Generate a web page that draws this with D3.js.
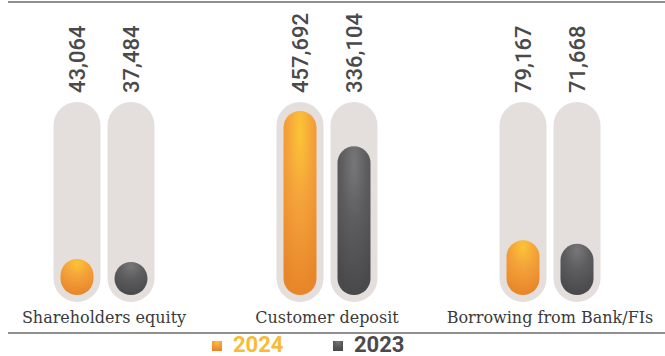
<!DOCTYPE html>
<html><head><meta charset="utf-8">
<script src="https://cdn.jsdelivr.net/npm/d3@7"></script>
<style>html,body{margin:0;padding:0;background:#fff;}svg{display:block;}</style>
</head><body>
<script>
const categories = ["Shareholders equity", "Customer deposit", "Borrowing from Bank/FIs"];
const seriesNames = ["2024", "2023"];
const values2024 = [43064, 457692, 79167];
const values2023 = [37484, 336104, 71668];

const W = 665, H = 356;
const svg = d3.select("body").append("svg").attr("width", W).attr("height", H);
const defs = svg.append("defs");

function radial(id, c0, c1, c2) {
  const g = defs.append("radialGradient").attr("id", id)
    .attr("cx", 0.5).attr("cy", 0.12).attr("r", 0.85).attr("fx", 0.5).attr("fy", 0.12);
  g.append("stop").attr("offset", "0%").attr("stop-color", c0);
  g.append("stop").attr("offset", "45%").attr("stop-color", c1);
  g.append("stop").attr("offset", "100%").attr("stop-color", c2);
}
radial("g2024", "#fcc437", "#f4a23a", "#e8872a");
radial("g2023", "#77777a", "#5d5d60", "#4a4a4c");

const colors = {"2024": "url(#g2024)", "2023": "url(#g2023)"};
const legendColors = {"2024": "#f9bb37", "2023": "#4a4a4c"};

const x = d3.scalePoint().domain(categories).range([104, 550]);
const xs = d3.scaleBand().domain(seriesNames).range([-50.5, 50.5]).paddingInner(7 / 54);
const trackW = xs.bandwidth();
const inset = 7;
const barW = trackW - 2 * inset;
const trackTop = 102, trackBottom = 302;
const base = trackBottom - inset;
const h = d3.scalePow().exponent(0.69).domain([0, d3.max(values2024.concat(values2023))]).range([0, 184]);
const fmt = d3.format(",");

// lines
svg.append("line").attr("x1", 8).attr("x2", W).attr("y1", 2).attr("y2", 2)
  .attr("stroke", "#6b6b6b").attr("stroke-width", 1.5);
svg.append("line").attr("x1", 8).attr("x2", W).attr("y1", 333).attr("y2", 333)
  .attr("stroke", "#6b6b6b").attr("stroke-width", 1.5);

const rows = [];
categories.forEach((c, i) => {
  rows.push({cat: c, s: "2024", v: values2024[i]});
  rows.push({cat: c, s: "2023", v: values2023[i]});
});

const g = svg.append("g");
rows.forEach(d => {
  const x0 = x(d.cat) + xs(d.s);
  g.append("rect").attr("x", x0).attr("y", trackTop).attr("width", trackW)
    .attr("height", trackBottom - trackTop).attr("rx", trackW / 2).attr("ry", trackW / 2)
    .attr("fill", "#e4dfdc");
  const bh = Math.max(barW, h(d.v));
  g.append("rect").attr("x", x0 + inset).attr("y", base - bh).attr("width", barW)
    .attr("height", bh).attr("rx", barW / 2).attr("ry", barW / 2)
    .attr("fill", colors[d.s]);
  const cx = x0 + trackW / 2;
  g.append("text").attr("transform", `translate(${cx + 8},93) rotate(-90)`)
    .attr("text-anchor", "start")
    .attr("font-family", "Roboto, sans-serif").attr("font-weight", 500)
    .attr("font-size", 22).attr("fill", "#4a4a4a")
    .text(fmt(d.v));
});

categories.forEach(c => {
  svg.append("text").attr("x", x(c)).attr("y", 323).attr("text-anchor", "middle")
    .attr("font-family", "'DejaVu Serif', serif").attr("font-size", 16)
    .attr("fill", "#3a3a3a").text(c);
});

// legend
const legX = {"2024": 212, "2023": 333};
seriesNames.forEach(s => {
  svg.append("rect").attr("x", legX[s]).attr("y", 341).attr("width", 10).attr("height", 10)
    .attr("fill", colors[s]);
  svg.append("text").attr("x", legX[s] + 21).attr("y", 352)
    .attr("font-family", "Roboto, sans-serif").attr("font-weight", 700)
    .attr("font-size", 22).attr("fill", legendColors[s]).text(s);
});
</script>
</body></html>
